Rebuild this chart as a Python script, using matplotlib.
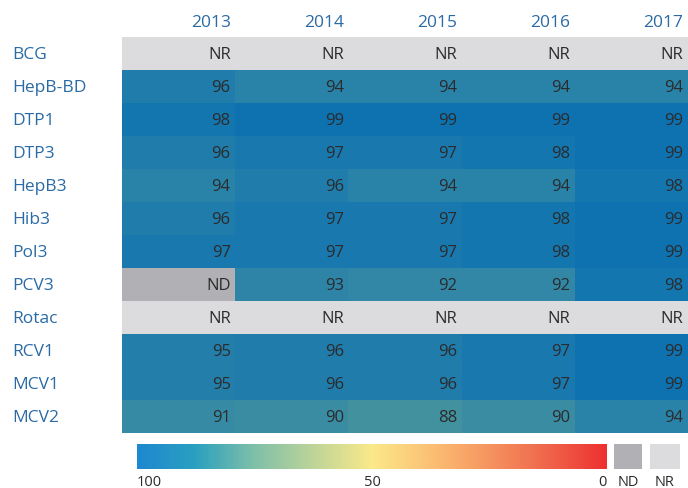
import numpy as np
import matplotlib
matplotlib.use("Agg")
import matplotlib.pyplot as plt
from matplotlib.colors import LinearSegmentedColormap, Normalize

plt.rcParams['font.family'] = ['Open Sans', 'DejaVu Sans']

years = ['2013', '2014', '2015', '2016', '2017']
vaccines = ['BCG', 'HepB-BD', 'DTP1', 'DTP3', 'HepB3', 'Hib3', 'Pol3',
            'PCV3', 'Rotac', 'RCV1', 'MCV1', 'MCV2']
# 'NR' = not reported, 'ND' = no data
coverage = [
    ['NR', 'NR', 'NR', 'NR', 'NR'],
    [96, 94, 94, 94, 94],
    [98, 99, 99, 99, 99],
    [96, 97, 97, 98, 99],
    [94, 96, 94, 94, 98],
    [96, 97, 97, 98, 99],
    [97, 97, 97, 98, 99],
    ['ND', 93, 92, 92, 98],
    ['NR', 'NR', 'NR', 'NR', 'NR'],
    [95, 96, 96, 97, 99],
    [95, 96, 96, 97, 99],
    [91, 90, 88, 90, 94],
]
legend_ticks = [100, 50, 0]

W, H = 688, 489
nd_col = '#b1b1b5'
nr_col = '#dcdcde'
label_col = '#2a6aa5'
text_col = '#2b2b2b'

# cell colours (darker variant of the legend scale)
cell_cmap = LinearSegmentedColormap.from_list('cells', [
    (0.0, '#ee3030'), (0.5, '#f5e58a'), (0.75, '#7fb8a4'),
    (0.88, '#42929f'), (0.94, '#2a82a8'), (1.0, '#0a70b2')])
bar_cmap = LinearSegmentedColormap.from_list('bar', [
    (0.0, '#ee3030'), (0.15, '#f07050'), (0.35, '#fbb870'),
    (0.5, '#fbe98a'), (0.75, '#80c0a8'), (0.88, '#2aa0c0'), (1.0, '#1e88d0')])
norm = Normalize(0, 100)


def ax_px(x0, y0, x1, y1):
    return fig.add_axes([x0 / W, 1 - y1 / H, (x1 - x0) / W, (y1 - y0) / H])


fig = plt.figure(figsize=(W / 100, H / 100), dpi=100)

gx0, gx1, gy0, gy1 = 122, 688, 38, 434
ax = ax_px(gx0, gy0, gx1, gy1)
ncol, nrow = len(years), len(vaccines)
for i, row in enumerate(coverage):
    for j, v in enumerate(row):
        if v == 'NR':
            c = nr_col
        elif v == 'ND':
            c = nd_col
        else:
            c = cell_cmap(norm(v))
        ax.add_patch(plt.Rectangle((j, i), 1, 1, facecolor=c, edgecolor='none'))
        ax.text(j + 0.96, i + 0.53, str(v), ha='right', va='center',
                fontsize=12, color=text_col)
ax.set_xlim(0, ncol)
ax.set_ylim(nrow, 0)
ax.axis('off')

for j, y in enumerate(years):
    ax.text(j + 0.96, -0.45, y, ha='right', va='center', fontsize=12.5,
            color=label_col)
for i, name in enumerate(vaccines):
    ax.text(-(gx0 - 12) / ((gx1 - gx0) / ncol), i + 0.53, name, ha='left',
            va='center', fontsize=12.5, color=label_col)

# legend bar
bx0, bx1 = 137, 607
cax = ax_px(bx0, 445, bx1, 470)
grad = np.linspace(100, 0, 400).reshape(1, -1)
cax.imshow(grad, aspect='auto', cmap=bar_cmap, norm=norm,
           extent=[100, 0, 0, 1])
cax.set_xlim(100, 0)
cax.axis('off')
for t in legend_ticks:
    ha = 'left' if t == 100 else ('right' if t == 0 else 'center')
    xp = bx0 + (100 - t) / 100 * (bx1 - bx0)
    fig.text(xp / W, 1 - 483 / H, str(t), ha=ha, va='center', fontsize=10.5,
             color=text_col)

for (x0, x1, lab, c) in [(614, 642, 'ND', nd_col), (650, 680, 'NR', nr_col)]:
    bx = ax_px(x0, 445, x1, 470)
    bx.set_facecolor(c)
    bx.set_xticks([])
    bx.set_yticks([])
    for s in bx.spines.values():
        s.set_visible(False)
    fig.text((x0 + x1) / 2 / W, 1 - 483 / H, lab, ha='center', va='center',
             fontsize=10.5, color=text_col)

fig.savefig('out.png', dpi=100)
